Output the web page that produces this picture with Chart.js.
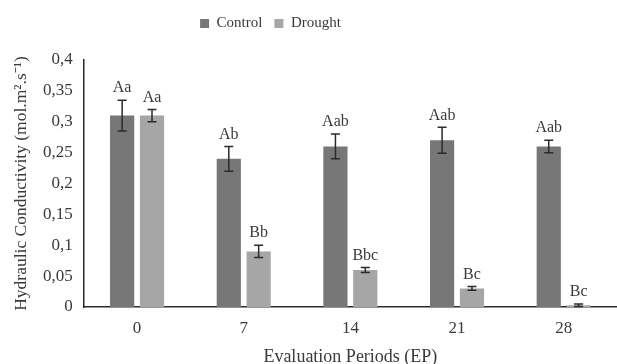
<!DOCTYPE html>
<html>
<head>
<meta charset="utf-8">
<script src="https://cdn.jsdelivr.net/npm/chart.js@4"></script>
<style>
  html, body { margin: 0; background: #fff; }
  #wrap { width: 617px; height: 364px; }
</style>
</head>
<body>
<div id="wrap"><canvas id="chart"></canvas></div>
<script>
// data
const periods = ['0', '7', '14', '21', '28'];
const controlValues = [0.31, 0.24, 0.26, 0.27, 0.26];
const droughtValues = [0.31, 0.09, 0.06, 0.03, 0.003];
const controlErrors = [0.025, 0.02, 0.02, 0.021, 0.01];
const droughtErrors = [0.01, 0.01, 0.004, 0.003, 0.002];
const controlLetters = ['Aa', 'Ab', 'Aab', 'Aab', 'Aab'];
const droughtLetters = ['Aa', 'Bb', 'Bbc', 'Bc', 'Bc'];

const SERIF = "'Liberation Serif', 'Times New Roman', serif";
const TEXT = '#3a3a3a';

// error bars + significance letters on top of each bar
const errorBars = {
  id: 'errorBars',
  afterDatasetsDraw(chart) {
    const { ctx, scales: { y } } = chart;
    chart.data.datasets.forEach((ds, i) => {
      const meta = chart.getDatasetMeta(i);
      meta.data.forEach((bar, j) => {
        const v = ds.data[j];
        const e = ds.errors[j];
        const top = y.getPixelForValue(v + e);
        const bot = y.getPixelForValue(Math.max(v - e, 0));
        ctx.save();
        ctx.strokeStyle = '#2b2b2b';
        ctx.lineWidth = 1.5;
        ctx.beginPath();
        ctx.moveTo(bar.x, top); ctx.lineTo(bar.x, bot);
        ctx.moveTo(bar.x - 4.5, top); ctx.lineTo(bar.x + 4.5, top);
        ctx.moveTo(bar.x - 4.5, bot); ctx.lineTo(bar.x + 4.5, bot);
        ctx.stroke();
        ctx.fillStyle = TEXT;
        ctx.font = '16px ' + SERIF;
        ctx.textAlign = 'center';
        ctx.textBaseline = 'bottom';
        ctx.fillText(ds.letters[j], bar.x, top - 4);
        ctx.restore();
      });
    });
  }
};

// legend sits left of centre, with a bigger gap under it
const legendTweak = {
  id: 'legendTweak',
  beforeInit(chart) {
    const fit = chart.legend.fit;
    chart.legend.fit = function () {
      fit.call(this);
      this.height += 19;
    };
  },
  afterLayout(chart) {
    chart.legend.right -= 87;
  }
};

new Chart(document.getElementById('chart'), {
  type: 'bar',
  data: {
    labels: periods,
    datasets: [
      {
        label: 'Control',
        data: controlValues,
        errors: controlErrors,
        letters: controlLetters,
        backgroundColor: '#777777'
      },
      {
        label: 'Drought',
        data: droughtValues,
        errors: droughtErrors,
        letters: droughtLetters,
        backgroundColor: '#a6a6a6'
      }
    ]
  },
  options: {
    responsive: true,
    maintainAspectRatio: false,
    animation: false,
    categoryPercentage: 0.56,
    barPercentage: 0.81,
    layout: { padding: { top: 4, right: 0, left: 11, bottom: 0 } },
    plugins: {
      legend: {
        position: 'top',
        labels: {
          boxWidth: 9,
          boxHeight: 9,
          padding: 12,
          color: TEXT,
          font: { family: SERIF, size: 15 }
        }
      },
      tooltip: { enabled: false }
    },
    scales: {
      x: {
        grid: { display: false, drawTicks: false },
        border: { display: true, color: '#2b2b2b', width: 1.5 },
        ticks: { color: TEXT, padding: 11, font: { family: SERIF, size: 17 } },
        title: {
          display: true,
          text: 'Evaluation Periods (EP)',
          color: TEXT,
          padding: { top: -3, bottom: -4 },
          font: { family: SERIF, size: 18 }
        }
      },
      y: {
        min: 0,
        max: 0.4,
        grid: { display: false, drawTicks: false },
        border: { display: true, color: '#2b2b2b', width: 1.5 },
        ticks: {
          stepSize: 0.05,
          color: TEXT,
          padding: 11,
          font: { family: SERIF, size: 17 },
          callback: v => String(Math.round(v * 100) / 100).replace('.', ',')
        },
        title: {
          display: true,
          text: 'Hydraulic Conductivity (mol.m\u00b2.s\u207b\u00b9)',
          color: TEXT,
          padding: { top: 0, bottom: 0 },
          font: { family: SERIF, size: 17.5 }
        }
      }
    }
  },
  plugins: [errorBars, legendTweak]
});
</script>
</body>
</html>
